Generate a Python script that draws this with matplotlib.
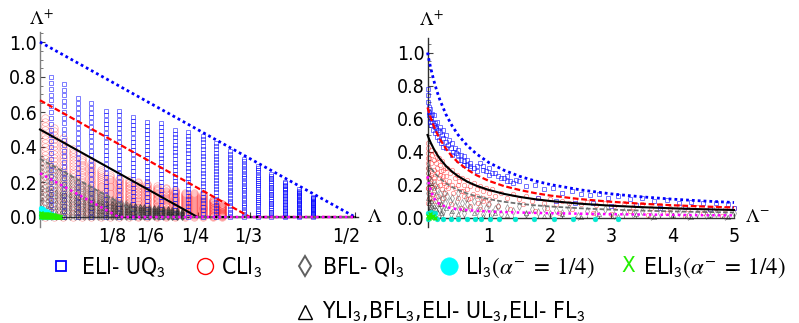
import os
import numpy as np
import matplotlib
matplotlib.use("Agg")
import matplotlib.pyplot as plt
import matplotlib.transforms as mtransforms
from matplotlib import font_manager as fm

plt.rcParams['mathtext.fontset'] = 'stix'

# ---------------- data ----------------
# Left panel: columns of points (Lambda position, column top)
blue_col_x = [0.017, 0.038, 0.060, 0.081, 0.104, 0.125, 0.148, 0.170, 0.192, 0.214,
              0.235, 0.258, 0.279, 0.302, 0.324, 0.346, 0.367, 0.389, 0.411, 0.433]
blue_col_top = [0.80, 0.758, 0.678, 0.65, 0.607, 0.607, 0.573, 0.541, 0.535, 0.497,
                0.484, 0.465, 0.421, 0.377, 0.331, 0.291, 0.246, 0.202, 0.158, 0.116]
red_col_x = [0.0075, 0.0223, 0.0371, 0.0519, 0.0667, 0.0815, 0.0963, 0.1111, 0.1259, 0.1407,
             0.1555, 0.1703, 0.1851, 0.1999, 0.2147, 0.2295, 0.2443, 0.2591, 0.2739, 0.2887]
red_col_top = [0.565, 0.51, 0.45, 0.39, 0.34, 0.31, 0.27, 0.24, 0.22, 0.21,
               0.20, 0.19, 0.175, 0.165, 0.155, 0.14, 0.135, 0.13, 0.10, 0.075]
gray_col_x = [0.003, 0.0104, 0.0178, 0.0252, 0.0326, 0.040, 0.0474, 0.0548, 0.0622, 0.0696,
              0.077, 0.0844, 0.0918, 0.0992, 0.1066, 0.114, 0.1214, 0.1288, 0.1362, 0.1436,
              0.151, 0.1584, 0.1658, 0.1732, 0.1806, 0.188, 0.1954, 0.2028, 0.2102, 0.2176, 0.225]
gray_col_top = [0.335, 0.32, 0.30, 0.28, 0.265, 0.25, 0.235, 0.22, 0.205, 0.19,
                0.175, 0.16, 0.145, 0.13, 0.12, 0.105, 0.095, 0.085, 0.078, 0.07,
                0.065, 0.06, 0.057, 0.055, 0.052, 0.05, 0.047, 0.044, 0.04, 0.035, 0.03]
tri_col_top = [0.17, 0.16, 0.155, 0.15, 0.14, 0.13, 0.125, 0.12, 0.115, 0.11,
               0.10, 0.095, 0.09, 0.085, 0.08, 0.078, 0.075, 0.072, 0.07, 0.068,
               0.066, 0.064, 0.062, 0.06, 0.058, 0.056, 0.054, 0.052, 0.05, 0.045, 0.04]
cyan_col_x = [0.001, 0.005, 0.009, 0.013, 0.017, 0.021]
cyan_col_top = [0.05, 0.045, 0.037, 0.028, 0.018, 0.01]
green_col_x = [0.002, 0.005, 0.008, 0.011, 0.014, 0.017, 0.020, 0.023, 0.026, 0.029, 0.032]
green_col_top = [0.022, 0.02, 0.019, 0.017, 0.015, 0.013, 0.011, 0.009, 0.006, 0.004, 0.002]

# Left panel boundary lines
lb_x = [0.0, 0.5];              lb_y = [1.0, 0.0]
lr_x = [0.0, 1 / 3, 0.5];       lr_y = [0.667, 0.0, 0.0]
lk_x = [0.0, 0.25, 0.5];        lk_y = [0.5, 0.0, 0.0]
lg_x = [0.0, 1 / 6, 0.5];       lg_y = [0.333, 0.0, 0.0]
lm_x = [0.0, 0.125, 0.5];       lm_y = [0.25, 0.0, 0.0]

# Right panel boundary curves
cr_x = [0, 0.025, 0.05, 0.1, 0.15, 0.2, 0.3, 0.4, 0.5, 0.65, 0.8, 1.0, 1.25, 1.5, 1.75,
        2.0, 2.5, 3.0, 3.5, 4.0, 4.5, 5.0]
cr_blue = [1.0, 0.952, 0.909, 0.833, 0.769, 0.714, 0.625, 0.556, 0.5, 0.435, 0.385, 0.333,
           0.286, 0.25, 0.222, 0.2, 0.167, 0.143, 0.125, 0.111, 0.1, 0.0909]
cr_red = [0.667, 0.635, 0.606, 0.556, 0.513, 0.476, 0.417, 0.370, 0.333, 0.290, 0.256, 0.222,
          0.190, 0.167, 0.148, 0.133, 0.111, 0.0952, 0.0833, 0.0741, 0.0667, 0.0606]
cr_black = [0.5, 0.476, 0.455, 0.417, 0.385, 0.357, 0.3125, 0.278, 0.25, 0.217, 0.192, 0.167,
            0.143, 0.125, 0.111, 0.1, 0.0833, 0.0714, 0.0625, 0.0556, 0.05, 0.0455]
cr_gray = [0.333, 0.317, 0.303, 0.278, 0.256, 0.238, 0.208, 0.185, 0.167, 0.145, 0.128, 0.111,
           0.0952, 0.0833, 0.0741, 0.0667, 0.0556, 0.0476, 0.0417, 0.037, 0.0333, 0.0303]
cr_mag = [0.25, 0.2, 0.165, 0.12, 0.095, 0.08, 0.065, 0.055, 0.05, 0.045, 0.04, 0.037,
          0.033, 0.03, 0.028, 0.026, 0.023, 0.02, 0.018, 0.016, 0.014, 0.013]

# Right panel scatter points
rb_x = [0.0, 0.0, 0.01, 0.02, 0.03, 0.05, 0.06, 0.08, 0.1, 0.12, 0.14, 0.17, 0.2, 0.23, 0.26, 0.3,
        0.04, 0.07, 0.1, 0.13, 0.16, 0.2, 0.25, 0.3, 0.35, 0.4, 0.45, 0.5, 0.55, 0.6, 0.65, 0.7,
        0.4, 0.5, 0.6, 0.7, 0.8, 0.9, 1.0, 1.1, 1.2, 1.3, 1.4, 1.5,
        0.85, 1.0, 1.15, 1.3, 1.45, 1.6, 1.75, 1.9, 2.05, 2.2, 2.35, 2.5, 2.65, 2.8, 2.95, 3.1,
        3.3, 3.5, 3.7, 3.9, 4.1, 4.3, 4.5, 4.7, 4.9,
        1.8, 2.1, 2.4, 2.7, 3.0, 3.4, 3.8, 4.2, 4.6, 5.0,
        0.02, 0.04, 0.06, 0.09, 0.12, 0.15, 0.18, 0.22, 0.26, 0.3, 0.34, 0.38, 0.42, 0.46, 0.5,
        0.55, 0.6, 0.65, 0.7, 0.75, 0.8, 0.9, 0.95, 1.05, 1.25, 1.35]
rb_y = [0.78, 0.74, 0.70, 0.67, 0.64, 0.62, 0.60, 0.58, 0.56, 0.55, 0.54, 0.53, 0.52, 0.50, 0.48, 0.46,
        0.66, 0.63, 0.62, 0.57, 0.58, 0.55, 0.53, 0.50, 0.47, 0.45, 0.42, 0.41, 0.38, 0.37, 0.35, 0.33,
        0.38, 0.35, 0.32, 0.30, 0.28, 0.31, 0.26, 0.27, 0.24, 0.25, 0.21, 0.22,
        0.33, 0.30, 0.25, 0.22, 0.23, 0.19, 0.20, 0.17, 0.18, 0.15, 0.16, 0.14, 0.135, 0.145, 0.12, 0.13,
        0.11, 0.12, 0.10, 0.105, 0.09, 0.095, 0.085, 0.09, 0.08,
        0.12, 0.10, 0.085, 0.09, 0.07, 0.075, 0.06, 0.065, 0.05, 0.055,
        0.62, 0.58, 0.56, 0.53, 0.51, 0.49, 0.47, 0.45, 0.43, 0.42, 0.44, 0.42, 0.40, 0.39, 0.38,
        0.35, 0.34, 0.32, 0.31, 0.30, 0.31, 0.29, 0.28, 0.27, 0.24, 0.22]
rr_x = [0.0, 0.01, 0.0, 0.02, 0.01, 0.03, 0.0, 0.02, 0.04, 0.01, 0.03, 0.02,
        0.06, 0.08, 0.1, 0.12, 0.14, 0.16, 0.18, 0.2, 0.22, 0.24, 0.26, 0.28,
        0.07, 0.11, 0.15, 0.19, 0.23, 0.27, 0.09, 0.13, 0.17, 0.21, 0.25, 0.29,
        0.32, 0.36, 0.4, 0.44, 0.48, 0.52, 0.56, 0.6, 0.65, 0.7, 0.75, 0.8, 0.85, 0.9, 0.95, 1.0,
        0.34, 0.42, 0.5, 0.58, 0.66, 0.74, 0.82, 0.9, 0.98, 0.38, 0.54, 0.7, 0.86,
        1.05, 1.1, 1.2, 1.3, 1.4, 1.5, 1.6, 1.7, 1.8, 1.9, 2.0, 2.1, 2.2, 2.3, 2.4, 2.5,
        1.15, 1.35, 1.55, 1.75, 1.95, 2.15, 2.35,
        2.6, 2.75, 2.9, 3.05, 3.2, 3.35, 3.5, 3.65, 3.8, 3.95, 4.1, 4.25, 4.4, 4.55, 4.7, 4.85, 5.0,
        2.7, 3.0, 3.3, 3.6, 3.9, 4.2, 4.5, 4.8,
        0.0, 0.0, 0.0, 0.0, 0.01, 0.05, 0.05, 0.05, 0.05, 0.1, 0.1, 0.1, 0.15, 0.15, 0.2, 0.2,
        0.25, 0.25, 0.3, 0.3, 0.35, 0.4, 0.45, 0.5, 0.55, 0.6, 0.65, 0.7, 0.8, 0.9, 1.0]
rr_y = [0.45, 0.42, 0.39, 0.36, 0.33, 0.30, 0.27, 0.24, 0.21, 0.18, 0.15, 0.12,
        0.41, 0.38, 0.35, 0.39, 0.33, 0.30, 0.36, 0.32, 0.28, 0.34, 0.25, 0.30,
        0.27, 0.22, 0.19, 0.24, 0.17, 0.21, 0.14, 0.10, 0.13, 0.08, 0.12, 0.15,
        0.30, 0.27, 0.29, 0.24, 0.26, 0.22, 0.24, 0.20, 0.23, 0.19, 0.21, 0.17, 0.19, 0.16, 0.18, 0.15,
        0.18, 0.15, 0.12, 0.16, 0.11, 0.14, 0.09, 0.12, 0.08, 0.08, 0.06, 0.07, 0.05,
        0.17, 0.13, 0.15, 0.12, 0.14, 0.11, 0.13, 0.10, 0.12, 0.09, 0.11, 0.08, 0.10, 0.09, 0.105, 0.08,
        0.07, 0.05, 0.08, 0.04, 0.06, 0.03, 0.05,
        0.095, 0.075, 0.09, 0.07, 0.085, 0.065, 0.08, 0.06, 0.075, 0.055, 0.07, 0.05, 0.065, 0.045, 0.06, 0.05, 0.055,
        0.03, 0.02, 0.04, 0.015, 0.03, 0.01, 0.025, 0.01,
        0.36, 0.30, 0.24, 0.18, 0.09, 0.33, 0.26, 0.20, 0.12, 0.29, 0.24, 0.18, 0.36, 0.27, 0.26, 0.20,
        0.29, 0.22, 0.25, 0.19, 0.22, 0.20, 0.18, 0.20, 0.16, 0.13, 0.17, 0.12, 0.13, 0.10, 0.11]
rg_x = [0.0, 0.01, 0.02, 0.0, 0.03, 0.01, 0.04, 0.02, 0.05, 0.03, 0.06, 0.08, 0.1, 0.12, 0.14,
        0.16, 0.18, 0.2, 0.22, 0.24, 0.26, 0.28, 0.07, 0.11, 0.15, 0.19, 0.23, 0.27,
        0.32, 0.36, 0.4, 0.44, 0.48, 0.52, 0.56, 0.6, 0.65, 0.7, 0.75, 0.8, 0.85, 0.9, 0.95, 1.0,
        1.05, 1.1, 1.15, 1.2, 0.38, 0.62, 0.88, 0.5,
        1.3, 1.4, 1.5, 1.6, 1.7, 1.8, 1.9, 2.0, 2.1, 2.2, 2.3, 2.45, 2.6, 2.75, 2.9, 3.05, 3.2,
        3.35, 3.5, 3.65, 3.8, 3.95, 4.1, 4.25, 4.4, 4.55, 4.7, 4.85, 5.0]
rg_y = [0.30, 0.27, 0.24, 0.21, 0.18, 0.15, 0.12, 0.09, 0.06, 0.03, 0.22, 0.19, 0.16, 0.20, 0.13,
        0.17, 0.10, 0.14, 0.07, 0.11, 0.04, 0.09, 0.05, 0.08, 0.03, 0.05, 0.02, 0.15,
        0.13, 0.10, 0.12, 0.07, 0.10, 0.05, 0.09, 0.03, 0.08, 0.06, 0.10, 0.04, 0.07, 0.02, 0.06, 0.08,
        0.03, 0.05, 0.07, 0.02, 0.02, 0.12, 0.11, 0.15,
        0.06, 0.04, 0.07, 0.02, 0.05, 0.035, 0.06, 0.02, 0.045, 0.03, 0.055, 0.01, 0.04, 0.025, 0.05,
        0.015, 0.035, 0.02, 0.04, 0.01, 0.03, 0.02, 0.035, 0.01, 0.03, 0.015, 0.025, 0.01, 0.03]
rt_x = [0.0, 0.02, 0.04, 0.06, 0.08, 0.1, 0.14, 0.18, 0.22, 0.3, 0.4, 0.5, 0.6, 0.75, 0.9,
        1.1, 1.3, 1.6, 1.9, 2.2, 2.5, 2.8, 3.1, 3.4, 3.7, 4.0, 4.3, 4.6, 4.9]
rt_y = [0.12, 0.09, 0.06, 0.10, 0.04, 0.07, 0.05, 0.08, 0.03, 0.06, 0.04, 0.02, 0.05, 0.03, 0.01,
        0.03, 0.015, 0.03, 0.01, 0.02, 0.005, 0.02, 0.01, 0.02, 0.005, 0.015, 0.005, 0.015, 0.005]
rc_x = [0.0, 0.15, 0.26, 0.39, 0.5, 0.64, 0.78, 0.88, 1.02, 1.16, 1.43, 1.73, 2.06, 2.38, 2.74, 3.1,
        0.0, 0.02, 0.05, 0.08, 0.12, 0.03, 0.1]
rc_y = [-0.012] * 16 + [0.03, 0.02, 0.035, 0.015, 0.025, 0.005, 0.005]
rx_x = [0.0, 0.02, 0.04, 0.06, 0.09, 0.12]
rx_y = [0.01, 0.0, 0.02, 0.005, 0.01, 0.0]

left_xticks = [1 / 8, 1 / 6, 1 / 4, 1 / 3, 1 / 2]
left_xticklabels = ['1/8', '1/6', '1/4', '1/3', '1/2']
left_label_shift_px = [-6.5, 5, -2.5, -2, -9]
yticks = [0.0, 0.2, 0.4, 0.6, 0.8, 1.0]
yticklabels = ['0.0', '0.2', '0.4', '0.6', '0.8', '1.0']
right_xticks = [1, 2, 3, 4, 5]
right_xticklabels = ['1', '2', '3', '4', '5']

legend_labels = ['ELI- UQ$_\\mathsf{3}$', 'CLI$_\\mathsf{3}$', 'BFL- QI$_\\mathsf{3}$',
                 'LI$_\\mathsf{3}$$(\\alpha^{-}\\;=\\;1/4)$', 'ELI$_\\mathsf{3}$$(\\alpha^{-}\\;=\\;1/4)$',
                 'YLI$_\\mathsf{3}$,BFL$_\\mathsf{3}$,ELI- UL$_\\mathsf{3}$,ELI- FL$_\\mathsf{3}$']

# ---------------- fonts ----------------
def find_font():
    for c in ['DejaVuSansCondensed.ttf', 'LiberationSansNarrow-Regular.ttf']:
        for f in fm.fontManager.ttflist:
            if os.path.basename(f.fname) == c:
                return f.fname
    return None

FN = find_font()


def fp(size):
    if FN:
        return fm.FontProperties(fname=FN, size=size)
    return fm.FontProperties(family='DejaVu Sans', size=size)


# ---------------- figure ----------------
W, H = 799, 323
fig = plt.figure(figsize=(W / 100, H / 100), dpi=100)


def axpos(l, r, t, b):
    return [l / W, (H - b) / H, (r - l) / W, (b - t) / H]


def columns(xs, tops, n):
    X = np.repeat(np.asarray(xs, float), n)
    Y = np.concatenate([np.linspace(0, t, n) for t in tops])
    return X, Y


axL = fig.add_axes(axpos(33.7, 373.9, 29.75, 227.5))
axL.set_xlim(-0.01, 0.53)
axL.set_ylim(-0.06, 1.07)
axR = fig.add_axes(axpos(421.4, 770.8, 36.0, 229.05))
axR.set_xlim(-0.1, 5.6)
axR.set_ylim(-0.07, 1.1)

# left scatter
X, Y = columns(red_col_x, red_col_top, 25)
axL.plot(X, Y, ls='none', marker='o', ms=5.4, mfc='none', mec='#ff2020', mew=0.5, alpha=0.38, clip_on=False, zorder=2)
X, Y = columns(blue_col_x, blue_col_top, 25)
axL.plot(X, Y, ls='none', marker='s', ms=2.2, mfc='none', mec='blue', mew=0.6, alpha=0.6, clip_on=False, zorder=3)
X, Y = columns(gray_col_x, gray_col_top, 15)
axL.plot(X, Y, ls='none', marker='d', ms=3.2, mfc='none', mec='#505050', mew=0.5, alpha=0.45, clip_on=False, zorder=3)
X, Y = columns(gray_col_x, tri_col_top, 6)
axL.plot(X, Y, ls='none', marker='^', ms=2.6, mfc='none', mec='black', mew=0.5, alpha=0.3, clip_on=False, zorder=3)
X, Y = columns(cyan_col_x, cyan_col_top, 5)
axL.plot(X, Y, ls='none', marker='o', ms=3.5, mfc='cyan', mec='cyan', mew=0.3, clip_on=False, zorder=4)
X, Y = columns(green_col_x, green_col_top, 4)
axL.plot(X, Y, ls='none', marker='x', ms=3.0, mec='#22ee00', mew=1.0, clip_on=False, zorder=4)

# left lines
axL.plot(lb_x, lb_y, color='blue', lw=2.0, dashes=(1, 1.1), zorder=6, clip_on=False)
axL.plot(lr_x, lr_y, color='red', lw=1.6, dashes=(2.6, 1.2), zorder=6, clip_on=False)
axL.plot(lk_x, lk_y, color='black', lw=1.5, zorder=7, clip_on=False)
axL.plot(lg_x, lg_y, color='#707070', lw=1.3, dashes=(2.6, 1.2), zorder=7, clip_on=False)
axL.plot(lm_x, lm_y, color='magenta', lw=1.8, dashes=(1, 1.3), zorder=8, clip_on=False)

# right scatter
axR.plot(rr_x, rr_y, ls='none', marker='o', ms=3.2, mfc='none', mec='red', mew=0.5, alpha=0.5, clip_on=False, zorder=2)
axR.plot(rb_x, rb_y, ls='none', marker='s', ms=3.0, mfc='none', mec='blue', mew=0.7, alpha=0.55, clip_on=False, zorder=3)
axR.plot(rg_x, rg_y, ls='none', marker='d', ms=3.6, mfc='none', mec='#505050', mew=0.5, alpha=0.6, clip_on=False, zorder=3)
axR.plot(rt_x, rt_y, ls='none', marker='^', ms=3.0, mfc='none', mec='black', mew=0.5, alpha=0.5, clip_on=False, zorder=3)
axR.plot(rc_x, rc_y, ls='none', marker='o', ms=3.5, mfc='#00e8d0', mec='#00e8d0', mew=0.3, clip_on=False, zorder=4)
axR.plot(rx_x, rx_y, ls='none', marker='x', ms=3.0, mec='#22ee00', mew=1.0, clip_on=False, zorder=4)

# right curves
axR.plot(cr_x, cr_blue, color='blue', lw=2.0, dashes=(1, 1.1), zorder=6, clip_on=False)
axR.plot(cr_x, cr_red, color='red', lw=1.6, dashes=(2.6, 1.2), zorder=6, clip_on=False)
axR.plot(cr_x, cr_black, color='black', lw=1.5, zorder=7, clip_on=False)
axR.plot(cr_x, cr_gray, color='#707070', lw=1.3, dashes=(2.6, 1.2), zorder=7, clip_on=False)
axR.plot(cr_x, cr_mag, color='magenta', lw=1.8, dashes=(1, 1.3), zorder=8, clip_on=False)

# axes styling
for ax, ybounds, xbounds, scol in [(axL, (-0.055, 1.06), (0, 0.505), '#808080'),
                                   (axR, (-0.056, 1.09), (0, 5.0), '#303030')]:
    ax.patch.set_visible(False)
    for s in ['top', 'right']:
        ax.spines[s].set_visible(False)
    ax.spines['left'].set_position(('data', 0))
    ax.spines['bottom'].set_position(('data', 0))
    ax.spines['left'].set_bounds(*ybounds)
    ax.spines['bottom'].set_bounds(*xbounds)
    ax.spines['left'].set_color(scol)
    ax.spines['bottom'].set_color('#303030')
    ax.spines['left'].set_linewidth(1.0)
    ax.spines['bottom'].set_linewidth(1.0)
    ax.set_yticks(yticks)
    ax.set_yticklabels(yticklabels)
    ax.set_yticks(np.arange(0, 1.06, 0.05), minor=True)
    ax.tick_params(axis='both', which='major', direction='in', length=3.5, width=0.8, colors='#404040',
                   labelcolor='black')
    ax.tick_params(axis='both', which='minor', direction='in', length=1.8, width=0.6, colors='#606060')
    ax.tick_params(axis='y', pad=2)
    ax.tick_params(axis='x', pad=7)

axL.set_xticks(left_xticks)
axL.set_xticklabels(left_xticklabels)
axR.set_xticks(right_xticks)
axR.set_xticklabels(right_xticklabels)
axR.set_xticks(np.arange(0.2, 5.01, 0.2), minor=True)

for ax in (axL, axR):
    for lab in ax.get_xticklabels() + ax.get_yticklabels():
        lab.set_fontproperties(fp(14))

for tick, dx in zip(axL.xaxis.get_major_ticks(), left_label_shift_px):
    off = mtransforms.ScaledTranslation(dx / 100.0, 0, fig.dpi_scale_trans)
    tick.label1.set_transform(tick.label1.get_transform() + off)

# overlay in pixel coordinates for labels and legend
ov = fig.add_axes([0, 0, 1, 1])
ov.set_xlim(0, W)
ov.set_ylim(H, 0)
ov.axis('off')
ov.patch.set_visible(False)

ov.text(41, 19, r'$\Lambda^{+}$', fontsize=14, ha='center', va='center')
ov.text(431, 20, r'$\Lambda^{+}$', fontsize=14, ha='center', va='center')
ov.text(367, 216, r'$\Lambda$', fontsize=14, ha='left', va='center')
ov.text(745, 216, r'$\Lambda^{-}$', fontsize=14, ha='left', va='center')

ry1, ry2 = 266, 312
base1, base2 = 274, 318
ov.plot([61], [ry1], marker='s', ms=7.0, mfc='none', mec='blue', mew=1.3)
ov.text(81, base1, legend_labels[0], fontproperties=fp(16.5), ha='left', va='baseline')
ov.plot([205], [ry1], marker='o', ms=11.5, mfc='none', mec='red', mew=1.0)
ov.text(221, base1, legend_labels[1], fontproperties=fp(16.5), ha='left', va='baseline')
ov.plot([305], [ry1], marker='d', ms=10.5, mfc='none', mec='#606060', mew=1.4)
ov.text(322, base1, legend_labels[2], fontproperties=fp(16.5), ha='left', va='baseline')
ov.plot([449], [ry1], marker='o', ms=12.5, mfc='cyan', mec='cyan', mew=0.5)
ov.text(465, base1, legend_labels[3], fontproperties=fp(16.5), ha='left', va='baseline')
ov.text(628, ry1, 'X', fontproperties=fp(16), style='italic', color='#22ee00', ha='center', va='center')
ov.text(643, base1, legend_labels[4], fontproperties=fp(16.5), ha='left', va='baseline')
ov.plot([305], [ry2], marker='^', ms=10, mfc='none', mec='black', mew=1.0)
ov.text(322, base2, legend_labels[5], fontproperties=fp(16.5), ha='left', va='baseline')

fig.savefig('out.png', dpi=100)
